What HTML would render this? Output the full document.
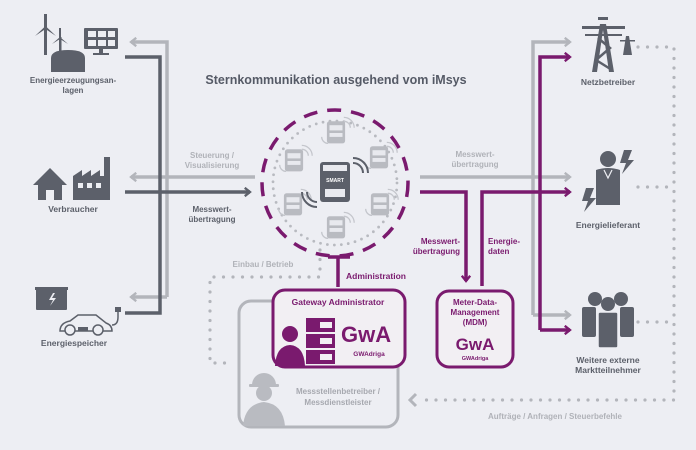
<!DOCTYPE html>
<html><head><meta charset="utf-8"><style>
html,body{margin:0;padding:0;background:#edeef3;}
svg{display:block}
text{font-family:"Liberation Sans",sans-serif;font-weight:bold;}
</style></head><body>
<svg width="696" height="450" viewBox="0 0 696 450" xmlns="http://www.w3.org/2000/svg">
<rect width="696" height="450" fill="#edeef3"/>
<defs>
<marker id="ag" viewBox="0 0 10 10" refX="6" refY="5" markerWidth="3" markerHeight="3" orient="auto"><path d="M1,1 L6,5 L1,9" fill="none" stroke="#b3b5bb" stroke-width="2.2"/></marker>
<marker id="ad" viewBox="0 0 10 10" refX="6" refY="5" markerWidth="3" markerHeight="3" orient="auto"><path d="M1,1 L6,5 L1,9" fill="none" stroke="#5c606a" stroke-width="2.2"/></marker>
<marker id="ap" viewBox="0 0 10 10" refX="6" refY="5" markerWidth="3" markerHeight="3" orient="auto"><path d="M1,1 L6,5 L1,9" fill="none" stroke="#7a1a6e" stroke-width="2.2"/></marker>
<g id="meter" transform="scale(1.3)"><rect x="-7" y="-9" width="14" height="17" rx="2" fill="#b9bbc1"/><rect x="-5" y="-6" width="10" height="4" fill="#e8e9ee"/><rect x="-5" y="0" width="10" height="3" fill="#e8e9ee"/><path d="M6,-9 a5,5 0 0 1 5,5 M6,-12 a8,8 0 0 1 8,8" fill="none" stroke="#c4c6cc" stroke-width="1"/><path d="M-6,8 a5,5 0 0 1 -5,-5" fill="none" stroke="#c4c6cc" stroke-width="1"/></g>
</defs>

<text x="336" y="84" font-size="12.5" fill="#555a66" text-anchor="middle">Sternkommunikation ausgehend vom iMsys</text>

<g fill="none" stroke-width="3.5">
<path d="M167,297 V42 H131" stroke="#b3b5bb" marker-end="url(#ag)"/>
<path d="M167,297 H131" stroke="#b3b5bb" marker-end="url(#ag)"/>
<path d="M255,177 H131" stroke="#b3b5bb" marker-end="url(#ag)"/>
<path d="M125,57 H160 V313 H125" stroke="#5c606a"/>
<path d="M125,192 H250" stroke="#5c606a" marker-end="url(#ad)"/>
</g>
<g fill="none" stroke-width="3.5">
<path d="M533,315 V42 H570" stroke="#b3b5bb" marker-end="url(#ag)"/>
<path d="M533,315 H570" stroke="#b3b5bb" marker-end="url(#ag)"/>
<path d="M420,177 H570" stroke="#b3b5bb" marker-end="url(#ag)"/>
<path d="M540,330 V57 H570" stroke="#7a1a6e" marker-end="url(#ap)"/>
<path d="M540,330 H570" stroke="#7a1a6e" marker-end="url(#ap)"/>
<path d="M482,286 V192 H570" stroke="#7a1a6e" marker-end="url(#ap)"/>
<path d="M420,192 H466 V281" stroke="#7a1a6e" marker-end="url(#ap)"/>
</g>

<g fill="none" stroke="#b3b5bb" stroke-width="3.2" stroke-linecap="round" stroke-dasharray="0 9.5">
<path d="M320,250 V277 H210 V363 H232"/>
<path d="M638,47 H674 V400 H425"/>
<path d="M638,187 H674"/>
<path d="M638,322 H674"/>
</g>
<path d="M416,394 L410,400 L416,406" fill="none" stroke="#b3b5bb" stroke-width="3"/>

<circle cx="335" cy="183" r="62" fill="none" stroke="#b8bac0" stroke-width="2.8" stroke-dasharray="0 7" stroke-linecap="round"/>
<circle cx="335" cy="183" r="73" fill="none" stroke="#7a1a6e" stroke-width="3.5" stroke-dasharray="14 10"/>
<use href="#meter" x="336" y="133"/>
<use href="#meter" x="379" y="158"/>
<use href="#meter" x="380" y="205"/>
<use href="#meter" x="336" y="228"/>
<use href="#meter" x="293" y="205"/>
<use href="#meter" x="294" y="161"/>
<rect x="320" y="162" width="30" height="40" rx="3" fill="#5c606a"/>
<rect x="323" y="165" width="24" height="6" fill="#e8e9ee"/>
<text x="335" y="182" font-size="5" fill="#fff" text-anchor="middle">SMART</text>
<rect x="325" y="189" width="20" height="8" fill="#e8e9ee"/>
<path d="M353,163 a10,10 0 0 1 10,10 M353,158 a15,15 0 0 1 15,15" fill="none" stroke="#5c606a" stroke-width="2"/>
<path d="M317,202 a10,10 0 0 1 -10,-10 M317,207 a15,15 0 0 1 -15,-15" fill="none" stroke="#5c606a" stroke-width="2"/>

<path d="M328,257 H350 M338,257 V287" stroke="#7a1a6e" stroke-width="3.5" fill="none"/>
<text x="346" y="279" font-size="8.5" fill="#7a1a6e">Administration</text>

<rect x="239" y="301" width="159" height="126" rx="12" fill="none" stroke="#b3b5bb" stroke-width="3"/>
<g fill="#b9bbc1">
<path d="M252,385 a12,12 0 0 1 24,0 z"/><rect x="249" y="384" width="30" height="3" rx="1"/>
<circle cx="264" cy="393" r="8"/>
<path d="M243,426 q2,-22 21,-24 q19,2 21,24 z"/>
</g>
<text font-size="8" fill="#a6a8af" text-anchor="middle"><tspan x="338" y="394">Messstellenbetreiber /</tspan><tspan x="338" y="405">Messdienstleister</tspan></text>

<rect x="273" y="290" width="132" height="77" rx="12" fill="#f2eff3" stroke="#7a1a6e" stroke-width="3"/>
<text x="338" y="305" font-size="8.5" fill="#7a1a6e" text-anchor="middle">Gateway Administrator</text>
<g fill="#7a1a6e">
<circle cx="290" cy="334" r="8"/>
<path d="M275,366 q1,-20 15,-21 q14,1 15,21 z"/>
<rect x="306" y="318" width="29" height="14"/><rect x="306" y="334" width="29" height="14"/><rect x="306" y="350" width="29" height="14"/>
</g>
<g fill="#f2eff3"><rect x="320" y="322" width="12" height="6"/><rect x="320" y="338" width="12" height="6"/><rect x="320" y="354" width="12" height="6"/></g>
<text x="341" y="342" font-size="22" fill="#7a1a6e" font-family="Liberation Serif">GwA</text>
<text x="369" y="356" font-size="6.5" fill="#7a1a6e" text-anchor="middle" font-weight="normal">GWAdriga</text>

<rect x="437" y="291" width="76" height="76" rx="12" fill="#f2eff3" stroke="#7a1a6e" stroke-width="3"/>
<text font-size="8" fill="#7a1a6e" text-anchor="middle"><tspan x="475" y="305">Meter-Data-</tspan><tspan x="475" y="315">Management</tspan><tspan x="475" y="325">(MDM)</tspan></text>
<text x="475" y="350" font-size="17" fill="#7a1a6e" text-anchor="middle" font-family="Liberation Serif">GwA</text>
<text x="475" y="360" font-size="5.5" fill="#7a1a6e" text-anchor="middle" font-weight="normal">GWAdriga</text>

<text font-size="8" fill="#b0b2b8" text-anchor="middle"><tspan x="212" y="158">Steuerung /</tspan><tspan x="212" y="168">Visualisierung</tspan></text>
<text font-size="8" fill="#5c606a" text-anchor="middle"><tspan x="212" y="212">Messwert-</tspan><tspan x="212" y="222">übertragung</tspan></text>
<text font-size="8" fill="#b0b2b8" text-anchor="middle"><tspan x="475" y="157">Messwert-</tspan><tspan x="475" y="167">übertragung</tspan></text>
<text font-size="8" fill="#7a1a6e" text-anchor="end"><tspan x="460" y="244">Messwert-</tspan><tspan x="460" y="254">übertragung</tspan></text>
<text font-size="8" fill="#7a1a6e"><tspan x="488" y="244">Energie-</tspan><tspan x="488" y="254">daten</tspan></text>
<text x="263" y="267" font-size="8" fill="#b0b2b8" text-anchor="middle">Einbau / Betrieb</text>
<text x="555" y="419" font-size="8" fill="#b0b2b8" text-anchor="middle">Aufträge / Anfragen / Steuerbefehle</text>

<g fill="#5c606a">
<rect x="44" y="26" width="3" height="29"/><path d="M45.5,26 L35,36 L45.5,29 L56,36 Z M44,14 L47,14 L47,27 L44,27 Z"/>
<rect x="59" y="37" width="2.5" height="15"/><path d="M60,37 L52,44 L60,39 L68,44 Z M59,28 L61,28 L61,38 L59,38Z"/>
<path d="M51,72 V58 q0,-8 17,-8 q17,0 17,8 V72 Z"/>
<rect x="84" y="28" width="34" height="21" rx="1"/>
<rect x="99" y="49" width="4" height="5"/><rect x="93" y="53" width="16" height="2"/>
<path d="M33,185 L50,168 L67,185 L62,185 L62,200 L38,200 L38,185 Z"/>
<path d="M73,200 V176 L82,170 V176 L91,170 V176 L100,170 V176 L104,176 V157 L110,157 V200 Z"/>
<rect x="36" y="289" width="31" height="21" rx="1"/><rect x="35" y="287" width="33" height="3"/>
</g>
<rect x="88" y="31" width="8" height="6" fill="#edeef3"/><rect x="98" y="31" width="8" height="6" fill="#edeef3"/><rect x="108" y="31" width="7" height="6" fill="#edeef3"/>
<rect x="88" y="40" width="8" height="6" fill="#edeef3"/><rect x="98" y="40" width="8" height="6" fill="#edeef3"/><rect x="108" y="40" width="7" height="6" fill="#edeef3"/>
<rect x="46" y="190" width="8" height="10" fill="#edeef3"/>
<rect x="78" y="183" width="5" height="5" fill="#edeef3"/><rect x="87" y="183" width="5" height="5" fill="#edeef3"/><rect x="96" y="183" width="5" height="5" fill="#edeef3"/>
<path d="M53,293 L49,300 L53,300 L50,306 L56,298 L52,298 L55,293Z" fill="#edeef3"/>
<path d="M60,331 q0,-8 10,-10 l8,-6 h18 l10,8 q6,2 6,8 z" fill="none" stroke="#5c606a" stroke-width="1.5"/>
<circle cx="70" cy="330" r="5" fill="#edeef3" stroke="#5c606a" stroke-width="1.5"/><circle cx="98" cy="330" r="5" fill="#edeef3" stroke="#5c606a" stroke-width="1.5"/>
<rect x="78" y="327" width="10" height="4" fill="#5c606a"/>
<path d="M112,325 q6,0 6,-8 v-6" fill="none" stroke="#5c606a" stroke-width="1.5"/><rect x="115" y="307" width="6" height="5" fill="#5c606a"/>
<text font-size="8" fill="#5c606a" text-anchor="middle"><tspan x="73" y="83">Energieerzeugungsan-</tspan><tspan x="73" y="93">lagen</tspan></text>
<text x="73" y="212" font-size="8.5" fill="#5c606a" text-anchor="middle">Verbraucher</text>
<text x="74" y="346" font-size="8.5" fill="#5c606a" text-anchor="middle">Energiespeicher</text>

<g fill="#5c606a">
<path d="M592,72 L600,24 L606,24 L614,72 L609,72 L603,30 L597,72 Z"/>
<rect x="582" y="26" width="43" height="3"/><rect x="585" y="34" width="37" height="2"/>
<path d="M598,38 L610,48 L596,60 L612,70" fill="none" stroke="#5c606a" stroke-width="2.5"/>
<rect x="598" y="17" width="10" height="3"/>
<path d="M623,55 L626,36 L629,36 L632,55 Z"/><rect x="620" y="40" width="15" height="1.5"/>
<circle cx="608" cy="159" r="8"/>
<path d="M596,170 q12,-4 24,0 V205 H596 Z"/>
<path d="M624,150 L632,150 L628,160 L634,160 L622,174 L626,163 L620,163 Z"/>
<path d="M586,188 L594,188 L590,198 L596,198 L584,212 L588,201 L582,201 Z"/>
<circle cx="595" cy="299" r="7"/><circle cx="621" cy="299" r="7"/><circle cx="608" cy="304" r="7"/>
<rect x="582" y="307" width="14" height="30" rx="2"/><rect x="620" y="307" width="14" height="30" rx="2"/>
<rect x="598" y="312" width="20" height="36" rx="2" stroke="#edeef3" stroke-width="1.5"/>
</g>
<path d="M604,170 L608,178 L612,170" fill="none" stroke="#edeef3" stroke-width="1.2"/>
<text x="608" y="85" font-size="8.5" fill="#5c606a" text-anchor="middle">Netzbetreiber</text>
<text x="608" y="228" font-size="8.5" fill="#5c606a" text-anchor="middle">Energielieferant</text>
<text font-size="8.5" fill="#5c606a" text-anchor="middle"><tspan x="608" y="363">Weitere externe</tspan><tspan x="608" y="373">Marktteilnehmer</tspan></text>
</svg>
</body></html>
